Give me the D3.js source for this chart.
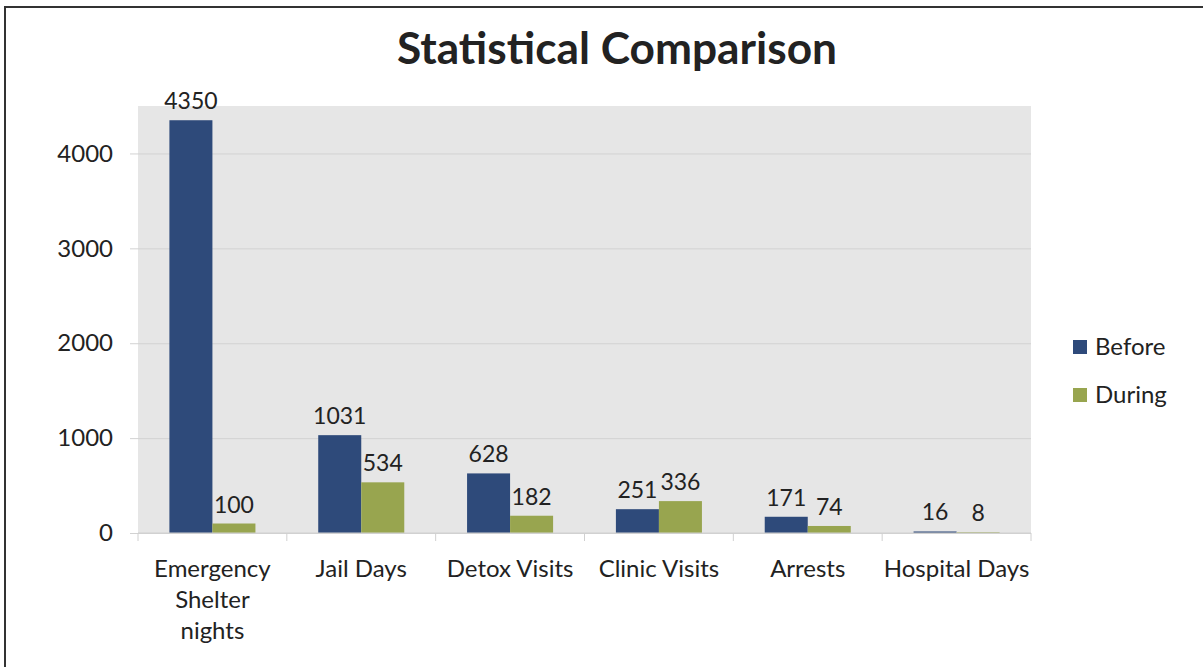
<!DOCTYPE html>
<html>
<head>
<meta charset="utf-8">
<script src="https://cdn.jsdelivr.net/npm/d3@7"></script>
<style>
  body { margin: 0; background: #fff; }
  svg { display: block; font-family: Lato, "Open Sans", sans-serif; }
</style>
</head>
<body>
<svg id="chart" width="1203" height="667"></svg>
<script>
'use strict'

// ------ data ------
const categories = ['Emergency\nShelter\nnights', 'Jail Days', 'Detox Visits', 'Clinic Visits', 'Arrests', 'Hospital Days']
const before = [4350, 1031, 628, 251, 171, 16]
const during = [100, 534, 182, 336, 74, 8]
const seriesNames = ['Before', 'During']
const seriesColors = ['#2e4a7a', '#98a54f']
const yTicks = [0, 1000, 2000, 3000, 4000]

const series = [before, during]
const fontSize = 24

var svg = d3.select('#chart')

// ------ frame ------
svg.append('rect')
  .attr('x', 5).attr('y', 7)
  .attr('width', 1210).attr('height', 680)
  .attr('fill', 'none')
  .attr('stroke', '#333')
  .attr('stroke-width', 2)

// ------ title, fitted to the reference width ------
var title = svg.append('text')
  .attr('x', 617).attr('y', 64)
  .attr('text-anchor', 'middle')
  .attr('font-weight', 'bold')
  .attr('font-size', 40)
  .attr('fill', '#222')
  .text('Statistical Comparison')
var tw = title.node().getComputedTextLength()
title.attr('font-size', 40 * 440 / tw)

// ------ scales ------
var plot = { left: 138, right: 1031, top: 106, bottom: 533 }

var x = d3.scaleBand()
  .domain(d3.range(categories.length))
  .range([plot.left, plot.right])

// two bars per category, ~43px each, the rest is gap
var xs = d3.scaleBand()
  .domain(d3.range(series.length))
  .range([0, x.bandwidth()])
  .paddingInner(0)
  .paddingOuter(0.73)

var y = d3.scaleLinear()
  .domain([0, 4500])
  .range([plot.bottom, plot.top])

// plot background
svg.append('rect')
  .attr('x', plot.left).attr('y', plot.top)
  .attr('width', plot.right - plot.left)
  .attr('height', plot.bottom - plot.top)
  .attr('fill', '#e6e6e6')

// ------ y axis: gridlines + labels ------
var yAxis = svg.append('g')
  .attr('transform', 'translate(' + plot.left + ',0)')
  .call(d3.axisLeft(y)
    .tickValues(yTicks)
    .tickFormat(d3.format('d'))
    .tickSize(-(plot.right - plot.left))
    .tickPadding(25))
yAxis.select('.domain').remove()
yAxis.selectAll('.tick line')
  .attr('x1', -8)
  .attr('stroke', '#d2d2d2')
yAxis.selectAll('.tick text')
  .attr('font-size', fontSize)
  .attr('fill', '#222')
  .attr('font-family', 'Lato, "Open Sans", sans-serif')

// ------ bars ------
var groups = svg.append('g').selectAll('g')
  .data(series)
  .join('g')
  .attr('fill', function (d, i) { return seriesColors[i] })

groups.each(function (vals, si) {
  var g = d3.select(this)
  g.selectAll('rect')
    .data(vals)
    .join('rect')
    .attr('x', function (d, i) { return x(i) + xs(si) })
    .attr('width', xs.bandwidth())
    .attr('y', function (d) { return y(d) })
    .attr('height', function (d) { return y(0) - y(d) })

  svg.append('g').selectAll('text')
    .data(vals)
    .join('text')
    .attr('x', function (d, i) { return x(i) + xs(si) + xs.bandwidth() / 2 })
    .attr('y', function (d) { return y(d) - 11 })
    .attr('text-anchor', 'middle')
    .attr('font-size', 23)
    .attr('fill', '#222')
    .text(function (d) { return d })
})

// ------ x axis: baseline, boundary ticks, wrapped labels ------
var xAxis = svg.append('g')
svg.append('line')
  .attr('x1', plot.left).attr('x2', plot.right)
  .attr('y1', plot.bottom).attr('y2', plot.bottom)
  .attr('stroke', '#d0d0d0')
xAxis.selectAll('line')
  .data(d3.range(categories.length + 1))
  .join('line')
  .attr('x1', function (i) { return plot.left + i * x.step() })
  .attr('x2', function (i) { return plot.left + i * x.step() })
  .attr('y1', plot.bottom)
  .attr('y2', plot.bottom + 8)
  .attr('stroke', '#d0d0d0')

xAxis.selectAll('text')
  .data(categories)
  .join('text')
  .attr('text-anchor', 'middle')
  .attr('font-size', fontSize)
  .attr('fill', '#222')
  .each(function (label, i) {
    var t = d3.select(this)
    label.split('\n').forEach(function (line, k) {
      t.append('tspan')
        .attr('x', x(i) + x.bandwidth() / 2)
        .attr('y', 577 + k * 31)
        .text(line)
    })
  })

// ------ legend ------
var legend = svg.append('g').selectAll('g')
  .data(seriesNames)
  .join('g')
  .attr('transform', function (d, i) { return 'translate(1073,' + (340 + i * 48) + ')' })
legend.append('rect')
  .attr('width', 14).attr('height', 14)
  .attr('fill', function (d, i) { return seriesColors[i] })
legend.append('text')
  .attr('x', 22).attr('y', 15)
  .attr('font-size', fontSize)
  .attr('fill', '#222')
  .text(function (d) { return d })
</script>
</body>
</html>
